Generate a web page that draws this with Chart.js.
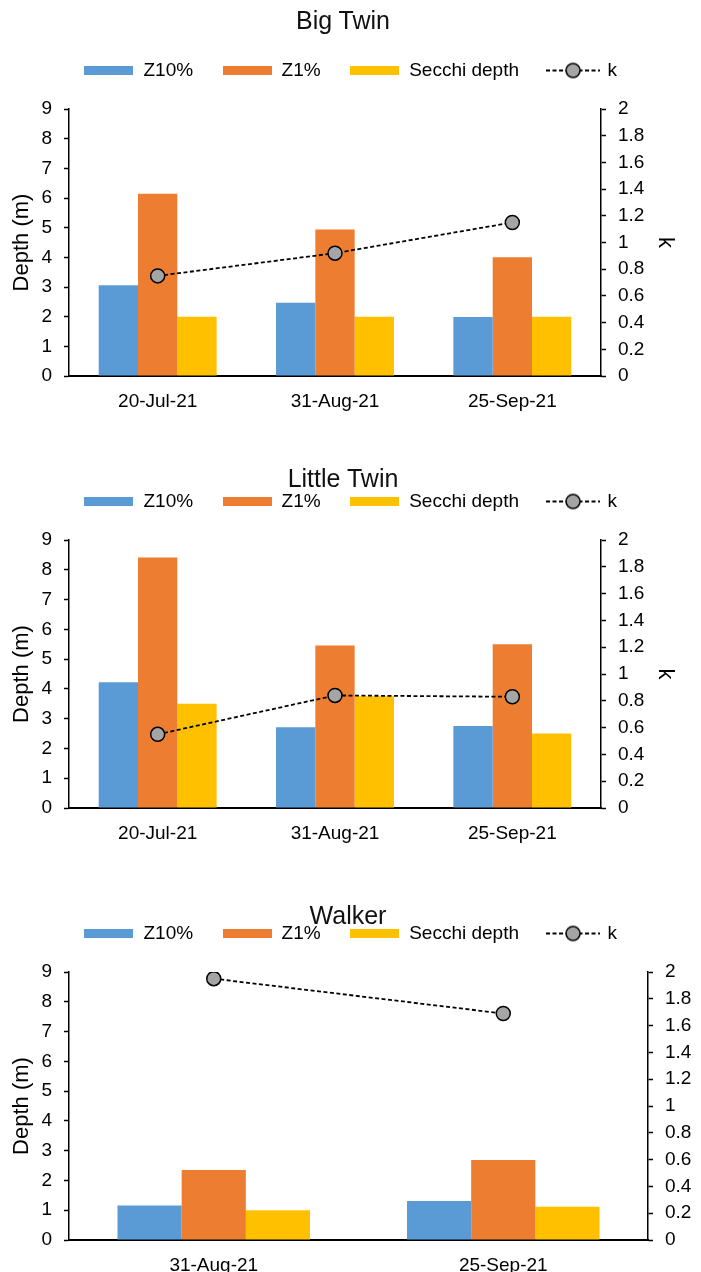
<!DOCTYPE html>
<html lang="en">
<head>
    <meta charset="UTF-8">
    <title>Light attenuation - Big Twin, Little Twin, Walker</title>
    <script src="https://cdn.jsdelivr.net/npm/chart.js"></script>
    <style>
        body { margin: 0; background: #fff; }
        .wrap { position: relative; width: 701px; height: 1272px; overflow: hidden; }
        canvas { position: absolute; left: 0; }
        .ttl {
            position: absolute; left: 0; width: 686px; text-align: center;
            font-family: 'Liberation Sans', Arial, sans-serif; font-size: 25px; color: #111;
            line-height: 30px; z-index: 2;
        }
    </style>
</head>
<body>
<div class="wrap">
    <canvas id="bigTwin" width="701" height="384" style="top:32px"></canvas>
    <canvas id="littleTwin" width="701" height="385" style="top:463px"></canvas>
    <canvas id="walker" width="701" height="377" style="top:895px"></canvas>
    <div class="ttl" style="top:5px">Big Twin</div>
    <div class="ttl" style="top:463px">Little Twin</div>
    <div class="ttl" style="top:900px;width:696px">Walker</div>
</div>

<script>
    // tick labels
    const depthTicks = ['0', '1', '2', '3', '4', '5', '6', '7', '8', '9'];
    const kTicks = ['0', '0.2', '0.4', '0.6', '0.8', '1', '1.2', '1.4', '1.6', '1.8', '2'];

    // Big Twin
    const bigTwinDates = ['20-Jul-21', '31-Aug-21', '25-Sep-21'];
    const bigTwinZ10 = [3.06, 2.47, 1.99];
    const bigTwinZ1 = [6.14, 4.94, 4.0];
    const bigTwinSecchi = [2.0, 2.0, 2.0];
    const bigTwinK = [0.75, 0.92, 1.15];

    // Little Twin
    const littleTwinDates = ['20-Jul-21', '31-Aug-21', '25-Sep-21'];
    const littleTwinZ10 = [4.22, 2.71, 2.75];
    const littleTwinZ1 = [8.41, 5.46, 5.5];
    const littleTwinSecchi = [3.5, 3.75, 2.5];
    const littleTwinK = [0.55, 0.84, 0.83];

    // Walker
    const walkerDates = ['31-Aug-21', '25-Sep-21'];
    const walkerZ10 = [1.16, 1.31];
    const walkerZ1 = [2.35, 2.69];
    const walkerSecchi = [1.0, 1.12];
    const walkerK = [1.95, 1.69];

    const FONT = "'Liberation Sans', Arial, sans-serif";
    const BLUE = '#5B9BD5', ORANGE = '#ED7D31', YELLOW = '#FFC000', GREY = '#A5A5A5';

    Chart.defaults.font.family = FONT;
    Chart.defaults.color = '#000';

    function swatch(color) {
        const c = document.createElement('canvas');
        c.width = 49; c.height = 9;
        const g = c.getContext('2d');
        g.fillStyle = color;
        g.fillRect(0, 0, 49, 9);
        return c;
    }

    function lineMarker() {
        const c = document.createElement('canvas');
        c.width = 54; c.height = 18;
        const g = c.getContext('2d');
        g.strokeStyle = '#000';
        g.lineWidth = 1.8;
        g.setLineDash([4, 2.5]);
        g.beginPath(); g.moveTo(0, 9); g.lineTo(54, 9); g.stroke();
        g.setLineDash([]);
        g.lineWidth = 1.5;
        g.beginPath(); g.arc(27, 9, 7, 0, Math.PI * 2);
        g.fillStyle = GREY; g.fill(); g.stroke();
        return c;
    }

    const legendIcons = [swatch(BLUE), swatch(ORANGE), swatch(YELLOW), lineMarker()];

    // extra room under the legend
    const legendGap = {
        id: 'legendGap',
        beforeInit(chart) {
            const fit = chart.legend.fit;
            chart.legend.fit = function () {
                fit.bind(chart.legend)();
                this.height += 19;
            };
        }
    };

    function makeChart(id, dates, z10, z1, secchi, k, rightWidth, showKTitle, xHeight) {
        const ctx = document.getElementById(id).getContext('2d');
        return new Chart(ctx, {
            type: 'bar',
            data: {
                labels: dates,
                datasets: [
                    { label: 'Z10%', data: z10, backgroundColor: BLUE, yAxisID: 'y', order: 1 },
                    { label: 'Z1%', data: z1, backgroundColor: ORANGE, yAxisID: 'y', order: 1 },
                    { label: 'Secchi depth', data: secchi, backgroundColor: YELLOW, yAxisID: 'y', order: 1 },
                    {
                        type: 'line', label: 'k', data: k, yAxisID: 'y1', order: 0,
                        borderColor: '#000', borderWidth: 1.8, borderDash: [4, 2.5],
                        pointRadius: 7, pointBackgroundColor: GREY, pointBorderColor: '#000',
                        pointBorderWidth: 1.5, fill: false
                    }
                ]
            },
            options: {
                responsive: false,
                animation: false,
                devicePixelRatio: 1,
                layout: { padding: 0 },
                datasets: { bar: { categoryPercentage: 0.665, barPercentage: 1.0 } },
                plugins: {
                    title: { display: false },
                    tooltip: { enabled: false },
                    legend: {
                        position: 'top',
                        labels: {
                            usePointStyle: true,
                            pointStyleWidth: 50,
                            padding: 29,
                            color: '#222',
                            font: { size: 19 },
                            generateLabels: chart => chart.data.datasets.map((ds, i) => ({
                                text: ds.label,
                                pointStyle: legendIcons[i],
                                fillStyle: 'transparent',
                                strokeStyle: 'transparent',
                                lineWidth: 0,
                                hidden: false,
                                datasetIndex: i
                            }))
                        }
                    }
                },
                scales: {
                    x: {
                        grid: { display: true, drawOnChartArea: false, drawTicks: false },
                        border: { color: '#000', width: 2 },
                        ticks: { font: { size: 19 }, padding: 14, color: '#000' },
                        afterFit: s => { s.height = xHeight; }
                    },
                    y: {
                        position: 'left',
                        min: 0, max: 9,
                        ticks: {
                            stepSize: 1, font: { size: 19 }, padding: 12, color: '#000',
                            callback: (v, i) => depthTicks[i]
                        },
                        grid: { drawOnChartArea: false, drawTicks: true, tickLength: 5, color: '#000', tickWidth: 1.5 },
                        border: { color: '#000', width: 1.5 },
                        title: { display: true, text: 'Depth (m)', font: { size: 22 }, color: '#000', padding: { top: 9 } },
                        afterFit: s => { s.width = 69; }
                    },
                    y1: {
                        position: 'right',
                        min: 0, max: 2,
                        ticks: {
                            stepSize: 0.2, font: { size: 19 }, padding: 12, color: '#000',
                            callback: (v, i) => kTicks[i]
                        },
                        grid: { drawOnChartArea: false, drawTicks: true, tickLength: 5, color: '#000', tickWidth: 1.5 },
                        border: { color: '#000', width: 1.5 },
                        title: { display: showKTitle, text: 'k', font: { size: 22 }, color: '#000', padding: { top: 23 } },
                        afterFit: s => { s.width = rightWidth; }
                    }
                }
            },
            plugins: [legendGap]
        });
    }

    makeChart('bigTwin', bigTwinDates, bigTwinZ10, bigTwinZ1, bigTwinSecchi, bigTwinK, 100, true, 40);
    makeChart('littleTwin', littleTwinDates, littleTwinZ10, littleTwinZ1, littleTwinSecchi, littleTwinK, 100, true, 40);
    makeChart('walker', walkerDates, walkerZ10, walkerZ1, walkerSecchi, walkerK, 53, false, 32);
</script>
</body>
</html>
